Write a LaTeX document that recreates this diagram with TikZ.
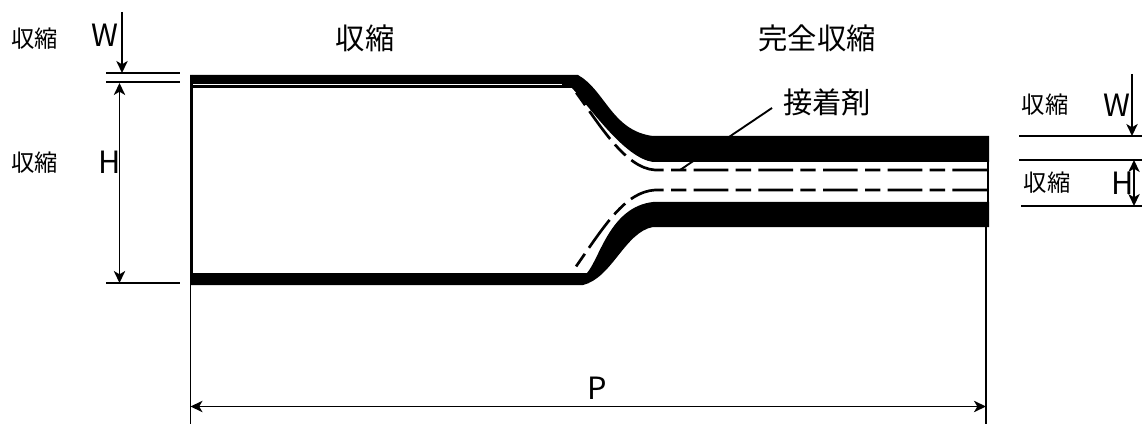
\documentclass[tikz,border=0pt]{standalone}
\usepackage{fontspec}
\setmainfont{Noto Sans CJK JP}
\usetikzlibrary{arrows.meta,positioning}
\begin{document}
\begin{tikzpicture}[x=0.75pt,y=-0.75pt,
dimline/.style={line width=1.4pt},
dimarrow/.style={line width=1.4pt,{Stealth[length=9pt,width=8.5pt,inset=2.5pt]}-{Stealth[length=9pt,width=8.5pt,inset=2.5pt]}},
downarrow/.style={line width=1.4pt,-{Stealth[length=9pt,width=8.5pt,inset=2.5pt]}},
glue/.style={line width=2pt,dash pattern=on 26pt off 5.5pt on 11.5pt off 5.5pt},
smalllabel/.style={font=\fontsize{17.5}{19}\selectfont,inner sep=0pt},
biglabel/.style={font=\fontsize{22}{24}\selectfont,inner sep=0pt},
letter/.style={font=\fontsize{23}{25}\selectfont,inner sep=0pt}]
\useasboundingbox (0,0) rectangle (1142,424);
\fill[black] (190,75)--(578,75) .. controls (605,90) and (612,131) .. (653,136)--(989,136)--(989,162)--(653,162) .. controls (625,158) and (592,110) .. (572,88)--(190,88)--cycle;
\fill[black] (190,273)--(587,273) .. controls (600,258) and (610,207) .. (653,202)--(989,202)--(989,227)--(653,227) .. controls (625,232) and (612,278) .. (583,285)--(190,285)--cycle;
\draw[white,line width=0.8pt] (193,84.5)--(562,84.5);
\draw[line width=2.2pt] (191.5,75)--(191.5,273);
\draw[line width=1.5pt] (987.5,162)--(987.5,202);
\draw[glue] (987,170)--(655,170) .. controls (625,168) and (600,125) .. (575,91);
\draw[glue] (987,190)--(655,190) .. controls (625,192) and (605,225) .. (575,268);
% left dimensions
\coordinate (wtop) at (122,12);
\coordinate (wend) at (122,73);
\coordinate (htop) at (119.5,83);
\coordinate (hend) at (119.5,283);
\draw[dimline] (106,73)--(180,73);
\draw[dimline] (106,82)--(180,82);
\draw[dimline] (106,283)--(180,283);
\draw[downarrow] (wtop)--(wend);
\draw[dimarrow] (htop)--(hend);
\node[smalllabel] (shrinkw) at (35,38.5) {収縮};
\node[smalllabel] (shrinkh) at (35,162.5) {収縮};
\node[letter] (wleft) at (105,35) {W};
\node[letter] (hleft) at (110,162) {H};
% headings
\node[biglabel] (shrinktop) at (365,38) {収縮};
\node[biglabel] (fullshrink) at (817,38) {完全収縮};
\node[biglabel] (glue) at (827,102) {接着剤};
\coordinate (gluetip) at (680,170);
\coordinate (gluestart) at (772,108);
\draw[dimline] (gluestart)--(gluetip);
% right dimensions
\coordinate (rwtop) at (1132,74);
\coordinate (rwend) at (1132,136);
\coordinate (rhtop) at (1134,160);
\coordinate (rhend) at (1134,206);
\draw[dimline] (1019,136)--(1142,136);
\draw[dimline] (1019,160)--(1142,160);
\draw[dimline] (1021,206)--(1142,206);
\node[smalllabel] (shrinkrw) at (1045,105) {収縮};
\node[smalllabel] (shrinkrh) at (1047,183) {収縮};
\node[letter] (wright) at (1117,105) {W};
\node[letter] (hright) at (1123,183) {H};
\draw[downarrow] (rwtop)--(rwend);
\draw[dimarrow] (rhtop)--(rhend);
% length
\coordinate (pleft) at (190.5,406.5);
\coordinate (pright) at (986,406.5);
\draw[dimline] (190.5,285)--(190.5,424);
\draw[dimline] (986,227)--(986,424);
\draw[dimarrow] (pleft)--(pright);
\node[letter] (plabel) at (597,388) {P};
\end{tikzpicture}
\end{document}
